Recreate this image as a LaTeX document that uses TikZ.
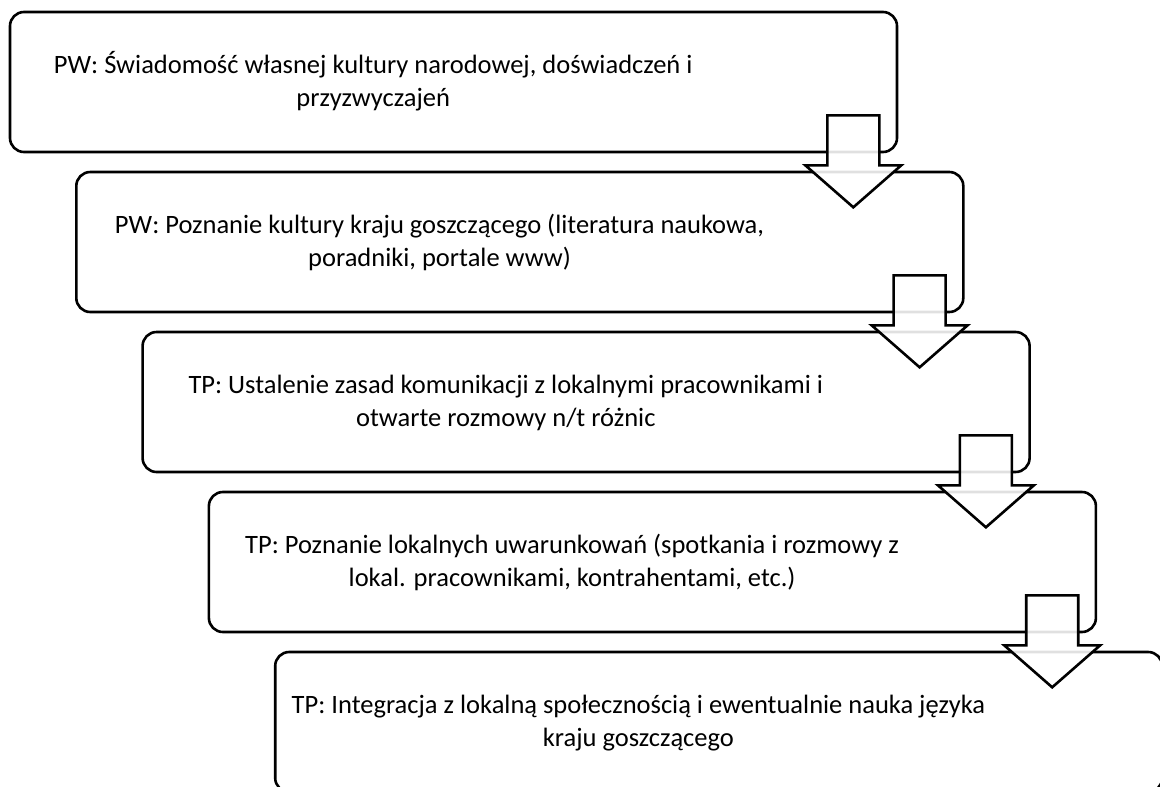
\documentclass[tikz,border=0pt]{standalone}
\usepackage{fontspec}
\setmainfont{Carlito}
\usetikzlibrary{calc}
\begin{document}
\begin{tikzpicture}[x=1pt,y=-1pt,
  box/.style={draw=black, line width=2.6pt, rounded corners=14pt, fill=white,
    minimum width=887pt, minimum height=140pt, inner sep=0pt},
  txt/.style={anchor=base, font=\fontsize{26.5}{32}\selectfont, text=black, inner sep=0pt},
  blk/.style={draw=black, line width=2.6pt, fill=white, fill opacity=0.88, line join=miter},
  downblock/.pic={\path[blk] (-26,-38) -- (26,-38) -- (26,12) -- (48,12) -- (0,54) -- (-48,12) -- (-26,12) -- cycle;}]
\useasboundingbox (0,0) rectangle (1160,787);
\clip (0,0) rectangle (1160,787);
% boxes
\node[box] (b1) at (453.5,82) {};
\node[box] (b2) at (519.8,242) {};
\node[box] (b3) at (586.1,402) {};
\node[box] (b4) at (652.4,562) {};
\node[box] (b5) at (718.7,722) {};
% texts
\node[txt] (t1a) at ($(b1.north west)+(364.5,63)$) {PW: Świadomość własnej kultury narodowej, doświadczeń i};
\node[txt] (t1b) at ($(b1.north west)+(364.5,96)$) {przyzwyczajeń};
\node[txt] (t2a) at ($(b2.north west)+(364.5,63)$) {PW: Poznanie kultury kraju goszczącego (literatura naukowa,};
\node[txt] (t2b) at ($(b2.north west)+(364.5,96)$) {poradniki, portale www)};
\node[txt] (t3a) at ($(b3.north west)+(364.5,63)$) {TP: Ustalenie zasad komunikacji z lokalnymi pracownikami i};
\node[txt] (t3b) at ($(b3.north west)+(364.5,96)$) {otwarte rozmowy n/t różnic};
\node[txt] (t4a) at ($(b4.north west)+(364.5,63)$) {TP: Poznanie lokalnych uwarunkowań (spotkania i rozmowy z};
\node[txt] (t4b) at ($(b4.north west)+(364.5,96)$) {lokal. pracownikami, kontrahentami, etc.)};
\node[txt] (t5a) at ($(b5.north west)+(364.5,63)$) {TP: Integracja z lokalną społecznością i ewentualnie nauka języka};
\node[txt] (t5b) at ($(b5.north west)+(364.5,96)$) {kraju goszczącego};
% block arrows
\pic (a1) at ($(b1.south east)+(-45,0)$) {downblock};
\pic (a2) at ($(b2.south east)+(-45,0)$) {downblock};
\pic (a3) at ($(b3.south east)+(-45,0)$) {downblock};
\pic (a4) at ($(b4.south east)+(-45,0)$) {downblock};
\end{tikzpicture}
\end{document}
